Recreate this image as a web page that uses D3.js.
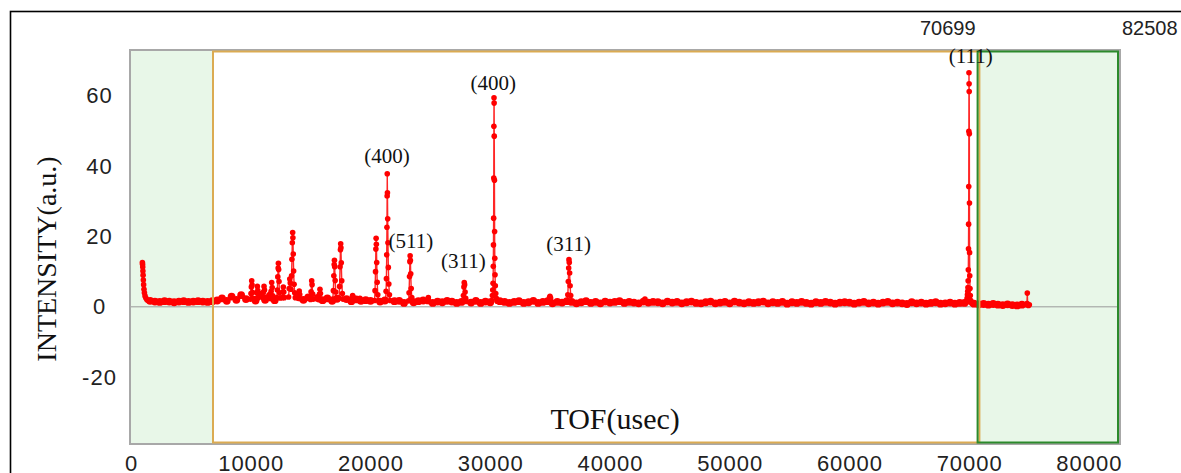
<!DOCTYPE html>
<html>
<head>
<meta charset="utf-8">
<script src="https://cdn.jsdelivr.net/npm/d3@7"></script>
<style>
  body { margin: 0; background: #fff; }
</style>
</head>
<body>
<div id="chart"></div>
<script>
// baseline intensity, one reading every 400 usec from 1600 usec
const baseStart = 1600
const baseStep = 400
const baseInt = [
    1.7, 1.5, 1.4, 1.6, 1.5, 1.3, 1.5, 1.6, 1.4, 1.5, 1.6, 1.5, 1.4, 1.6,
    1.8, 2.4, 1.7, 2.9, 2.0, 3.3, 2.2, 3.6,
    1.8, 3.4, 2.0, 3.2, 1.9, 3.0, 2.1, 2.8, 1.8, 2.6, 2.0, 2.7,
    1.8, 2.5, 1.9, 2.4, 1.7, 2.3, 1.8, 2.2, 1.6, 2.1, 1.7, 1.9,
    1.7, 1.2, 1.5, 1.8, 1.3, 1.6, 1.7, 1.1, 1.5, 1.3,
    1.6, 1.8, 1.2, 1.1, 1.5, 1.3, 1.7, 1.5, 1.1, 1.4,
    1.6, 1.2, 1.7, 1.1, 1.5, 1.3, 1.0, 1.6, 1.4, 1.1,
    1.4, 1.6, 1.1, 1.3, 1.7, 1.1, 1.4, 1.6, 1.0, 1.4,
    1.2, 1.6, 1.4, 1.0, 1.3, 1.6, 1.1, 1.4, 1.0, 1.5,
    1.2, 1.4, 1.6, 1.1, 1.4, 1.2, 1.0, 1.5, 1.2, 1.4,
    1.3, 1.0, 1.5, 1.2, 1.4, 1.0, 1.3, 1.5, 1.1, 1.0,
    1.3, 1.5, 1.0, 1.2, 1.4, 1.0, 1.5, 1.2, 1.0, 1.3,
    1.1, 1.3, 1.5, 1.0, 1.3, 1.1, 1.4, 0.9, 1.3, 1.1,
    1.4, 1.1, 0.9, 1.3, 1.1, 1.4, 1.2, 0.9, 1.2, 1.3,
    1.2, 0.9, 1.2, 1.4, 1.0, 1.2, 0.9, 1.2, 1.4, 1.0,
    1.2, 1.0, 0.8, 1.3, 1.0, 1.2, 0.9, 1.1, 1.3, 0.9,
    1.0, 1.2, 0.9, 1.1,
    1.1, 0.9,
    0.9, 0.7, 0.8, 0.6, 0.8, 0.6, 0.5, 0.7, 0.5, 0.4, 0.6
]

// peaks as [tof, intensity] readings
const peaks = [
    [[950, 12.6], [965, 12.1], [980, 11.3], [995, 10.2], [1010, 9.0], [1030, 7.6], [1055, 6.3],
     [1085, 5.0], [1120, 4.0], [1170, 3.1], [1240, 2.5], [1330, 2.0], [1450, 1.7]],
    [[9980, 2.2], [10020, 3.8], [10050, 5.6], [10080, 7.4], [10110, 6.2], [10140, 4.1], [10180, 2.4]],
    [[10460, 2.4], [10500, 4.0], [10550, 5.8], [10590, 4.6], [10630, 2.6]],
    [[11020, 2.5], [11060, 4.2], [11110, 5.8], [11150, 4.8], [11190, 2.7]],
    [[11650, 2.3], [11700, 4.4], [11750, 6.9], [11790, 5.5], [11840, 3.1]],
    [[12180, 2.6], [12220, 4.8], [12260, 8.5], [12290, 11.0], [12310, 12.4], [12330, 10.6],
     [12360, 7.2], [12400, 4.0], [12450, 2.5]],
    [[12640, 2.6], [12690, 4.3], [12720, 5.6], [12760, 4.2], [12800, 2.6]],
    [[13160, 2.8], [13210, 5.2], [13260, 7.9], [13300, 6.8], [13360, 5.0], [13410, 8.8], [13440, 13.5],
     [13470, 18.2], [13500, 21.1], [13520, 19.6], [13550, 15.0], [13580, 10.2], [13620, 6.4],
     [13670, 4.0], [13720, 2.6]],
    [[13980, 2.4], [14020, 3.6], [14050, 4.5], [14090, 3.5], [14140, 2.3]],
    [[14990, 2.1], [15040, 4.3], [15090, 7.4], [15120, 6.3], [15170, 3.6], [15220, 2.2]],
    [[15700, 2.0], [15740, 3.6], [15780, 5.0], [15820, 3.8], [15870, 2.1]],
    [[16850, 2.2], [16900, 4.6], [16940, 8.8], [16970, 12.0], [16990, 13.2], [17010, 11.4],
     [17050, 7.5], [17100, 4.2], [17150, 2.3]],
    [[17380, 2.5], [17420, 5.8], [17460, 11.4], [17490, 16.2], [17510, 17.9], [17530, 16.8],
     [17560, 12.5], [17600, 7.4], [17650, 3.8], [17700, 2.2]],
    [[18440, 2.0], [18480, 2.8], [18510, 3.2], [18550, 2.7], [18600, 1.9]],
    [[19080, 1.9], [19120, 2.4], [19160, 1.9]],
    [[20340, 1.8], [20380, 4.6], [20420, 10.0], [20450, 16.4], [20470, 19.5], [20490, 17.8],
     [20520, 12.6], [20560, 7.0], [20610, 3.4], [20660, 1.8]],
    [[21260, 2.0], [21300, 4.4], [21330, 8.0], [21355, 14.8], [21375, 22.6], [21390, 31.5],
     [21400, 37.8], [21415, 32.4], [21435, 25.0], [21460, 18.2], [21490, 11.2], [21530, 6.5],
     [21580, 3.4], [21640, 1.8]],
    [[23180, 1.7], [23220, 4.0], [23260, 8.6], [23290, 12.8], [23310, 14.5], [23330, 13.2],
     [23360, 9.4], [23400, 5.2], [23450, 2.6], [23500, 1.6]],
    [[24760, 1.5], [24830, 2.6], [24900, 1.5]],
    [[27720, 1.6], [27760, 3.2], [27800, 5.6], [27830, 6.9], [27860, 6.3], [27900, 4.2],
     [27950, 2.4], [28010, 1.5]],
    [[30140, 1.8], [30180, 3.2], [30210, 4.8], [30235, 6.7], [30255, 11.5], [30270, 17.6],
     [30285, 25.2], [30295, 36.6], [30305, 51.3], [30315, 59.4], [30325, 57.9], [30335, 48.5],
     [30350, 36.0], [30365, 21.4], [30380, 13.8], [30400, 9.1], [30425, 6.0], [30460, 3.8],
     [30510, 2.4], [30570, 1.6]],
    [[34900, 1.5], [34950, 2.6], [34990, 3.0], [35040, 2.5], [35100, 1.4]],
    [[36440, 1.5], [36480, 3.4], [36520, 7.2], [36550, 11.0], [36575, 13.4], [36600, 12.6],
     [36630, 9.6], [36670, 6.0], [36720, 3.2], [36780, 1.5]],
    [[42860, 1.3], [42920, 2.2], [42980, 1.3]],
    [[69780, 1.2], [69820, 2.4], [69850, 3.4], [69875, 4.4], [69895, 5.5], [69910, 7.4],
     [69925, 10.5], [69940, 16.5], [69950, 23.5], [69960, 34.2], [69970, 49.9], [69980, 66.5],
     [69990, 63.4], [70000, 61.2], [70010, 49.2], [70020, 29.5], [70030, 15.4], [70045, 8.8],
     [70065, 5.2], [70090, 3.2], [70130, 1.8], [70200, 1.0]],
    [[74780, 0.6], [74820, 0.9], [74850, 3.9], [74880, 0.8], [74940, 0.4], [75020, 0.6]]
]

const xTicks = [0, 10000, 20000, 30000, 40000, 50000, 60000, 70000, 80000]
const yTicks = [-20, 0, 20, 40, 60]

const labelText = ["(400)", "(511)", "(311)", "(400)", "(311)", "(111)"]
const labelTof = [21380, 23380, 27750, 30255, 36550, 70130]
const labelInt = [42.6, 18.4, 12.8, 63.4, 17.6, 71.2]

const shadeLeft = [0, 6848]
const midRange = [6848, 70850]
const shadeRight = [70699, 82508]
const edgeValues = [70699, 82508]

const TofChart = (initial_config) => {
    const { margin } = { ...initial_config }
    const config = { ...initial_config }
    let svg, root
    const width = config.width - margin.left - margin.right
    const height = config.height - margin.top - margin.bottom

    const x = d3.scaleLinear().domain([0, 82508]).range([0, width])
    const y = d3.scaleLinear().domain([-38.7, 72.7]).range([height, 0])

    function addSvg(container) {
        root = d3.select(container)
            .append("svg")
            .attr("width", config.width)
            .attr("height", config.height)
        root.append("rect")
            .attr("x", 10.5).attr("y", 11.5)
            .attr("width", config.width + 20).attr("height", config.height + 20)
            .attr("fill", "#fff").attr("stroke", "#000").attr("stroke-width", 1.6)
        svg = root.append("g")
            .attr("transform", `translate(${margin.left}, ${margin.top})`)
    }

    function addRegions() {
        svg.append("rect")
            .attr("x", 0).attr("y", 0).attr("width", width).attr("height", height)
            .attr("fill", "#fff")
        svg.append("rect")
            .attr("x", x(shadeLeft[0])).attr("y", 0)
            .attr("width", x(shadeLeft[1]) - x(shadeLeft[0])).attr("height", height)
            .attr("fill", "#e8f7e8")
        svg.append("rect")
            .attr("x", x(shadeRight[0])).attr("y", 0)
            .attr("width", x(shadeRight[1]) - x(shadeRight[0])).attr("height", height)
            .attr("fill", "#e8f7e8")
        svg.append("line")
            .attr("x1", 0).attr("x2", width)
            .attr("y1", y(0)).attr("y2", y(0))
            .attr("stroke", "#999").attr("stroke-width", 1)
    }

    function addFrames() {
        svg.append("rect")
            .attr("x", -1).attr("y", -1).attr("width", width + 2).attr("height", height + 2)
            .attr("fill", "none").attr("stroke", "#a8a8a8").attr("stroke-width", 2)
        svg.append("rect")
            .attr("x", x(midRange[0])).attr("y", 0.5)
            .attr("width", x(midRange[1]) - x(midRange[0])).attr("height", height - 1)
            .attr("fill", "none").attr("stroke", "#dbab52").attr("stroke-width", 2)
        svg.append("rect")
            .attr("x", x(shadeRight[0])).attr("y", 0.5)
            .attr("width", x(shadeRight[1]) - x(shadeRight[0]) - 1).attr("height", height - 1)
            .attr("fill", "none").attr("stroke", "#2b8a2b").attr("stroke-width", 2)
    }

    function addAxis() {
        const gx = svg.append("g")
            .attr("transform", `translate(0, ${height})`)
            .style("font-family", "'Liberation Sans', Arial, sans-serif")
            .style("font-size", "22px")
            .call(d3.axisBottom(x).tickValues(xTicks).tickSize(0).tickPadding(12)
                .tickFormat(d => String(d)))
        gx.select(".domain").remove()
        gx.selectAll(".tick text").style("fill", "#222").style("letter-spacing", "1px")

        const gy = svg.append("g")
            .style("font-family", "'Liberation Sans', Arial, sans-serif")
            .style("font-size", "22px")
            .call(d3.axisLeft(y).tickValues(yTicks).tickSize(0).tickFormat(d => String(d)))
        gy.select(".domain").remove()
        gy.selectAll(".tick text")
            .attr("x", -31.5)
            .attr("text-anchor", "middle")
            .style("fill", "#222")
            .style("letter-spacing", "1px")

        svg.append("text")
            .attr("x", width * 0.49).attr("y", 378)
            .attr("text-anchor", "middle")
            .style("font-family", "'Liberation Serif', 'Times New Roman', serif")
            .style("font-size", "30px")
            .style("fill", "#111")
            .text("TOF(usec)")

        root.append("text")
            .attr("transform", "translate(56, 259) rotate(-90)")
            .attr("text-anchor", "middle")
            .style("font-family", "'Liberation Serif', 'Times New Roman', serif")
            .style("font-size", "28px")
            .style("fill", "#111")
            .text("INTENSITY(a.u.)")

        svg.selectAll(".edge-label")
            .data(edgeValues)
            .join("text")
            .attr("class", "edge-label")
            .attr("x", (d, i) => i === 0 ? x(d) - 2 : x(d) + 3)
            .attr("y", -16)
            .attr("text-anchor", (d, i) => i === 0 ? "end" : "start")
            .style("font-family", "'Liberation Sans', Arial, sans-serif")
            .style("font-size", "20px")
            .style("fill", "#222")
            .text(d => d)
    }

    function buildEntrys() {
        const ranges = peaks.map(p => [p[0][0], p[p.length - 1][0]])
        const base = baseInt.map((v, i) => [baseStart + i * baseStep, v, true])
            .filter(d => !ranges.some(r => d[0] >= r[0] && d[0] <= r[1]))
        const peakPts = peaks.flat().map(d => [d[0], d[1], false])
        config.entrys = base.concat(peakPts)
            .sort((a, b) => a[0] - b[0])
            .map(d => ({ tof: d[0], inten: d[1], base: d[2] }))
    }

    function addLine() {
        svg.append("path")
            .datum(config.entrys)
            .attr("fill", "none")
            .attr("stroke", "#ff0000")
            .attr("stroke-opacity", 0.85)
            .attr("stroke-width", 1.4)
            .attr("d", d3.line().x(d => x(d.tof)).y(d => y(d.inten)))
        svg.append("g")
            .attr("fill", "#ff0000")
            .selectAll("circle")
            .data(config.entrys)
            .join("circle")
            .attr("cx", d => x(d.tof))
            .attr("cy", d => y(d.inten))
            .attr("r", d => d.base ? 3.9 : 2.8)
    }

    function addLabels() {
        svg.selectAll(".peak-label")
            .data(labelText)
            .join("text")
            .attr("class", "peak-label")
            .attr("x", (d, i) => x(labelTof[i]))
            .attr("y", (d, i) => y(labelInt[i]))
            .attr("dy", "0.3em")
            .attr("text-anchor", "middle")
            .style("font-family", "'Liberation Serif', 'Times New Roman', serif")
            .style("font-size", "21px")
            .style("fill", "#111")
            .text(d => d)
    }

    function init(container) {
        addSvg(container)
        buildEntrys()
        addRegions()
        addLine()
        addFrames()
        addAxis()
        addLabels()
    }
    return { init, config }
}

const chart = TofChart({
    width: 1181,
    height: 473,
    margin: { top: 51, right: 62, bottom: 30, left: 131 }
})
chart.init("#chart")
</script>
</body>
</html>
